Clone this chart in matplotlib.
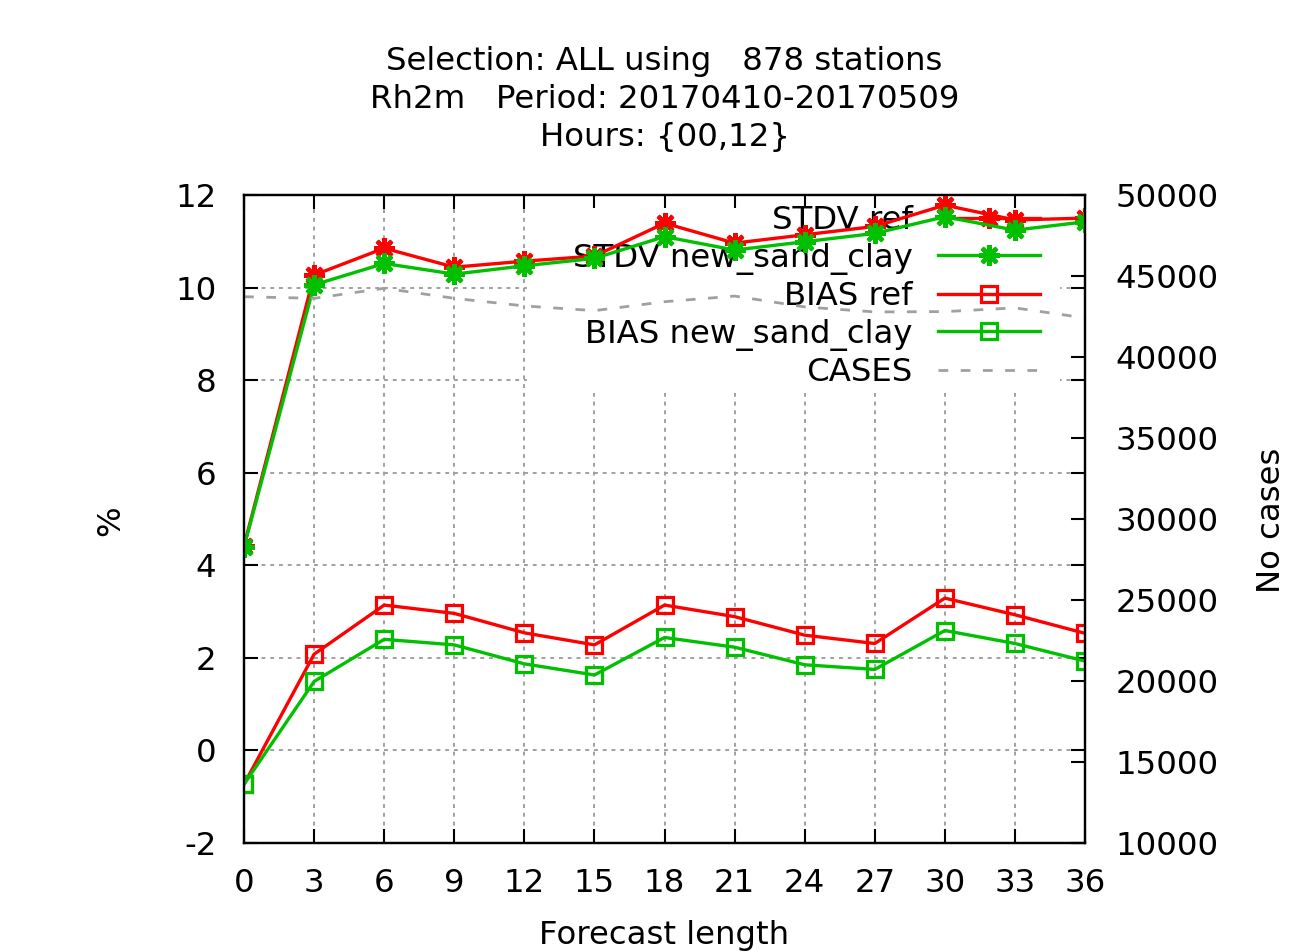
import matplotlib
matplotlib.use("Agg")
from matplotlib import pyplot as plt
from matplotlib.patches import Rectangle

# Datos
horas = [0, 3, 6, 9, 12, 15, 18, 21, 24, 27, 30, 33, 36]
stdv_ref = [4.42, 10.27, 10.85, 10.44, 10.57, 10.68, 11.39, 10.96, 11.14, 11.32, 11.78, 11.46, 11.50]
stdv_new = [4.40, 10.06, 10.52, 10.29, 10.47, 10.63, 11.10, 10.81, 10.99, 11.17, 11.53, 11.24, 11.42]
bias_ref = [-0.73, 2.08, 3.14, 2.96, 2.54, 2.28, 3.14, 2.89, 2.49, 2.31, 3.29, 2.93, 2.53]
bias_new = [-0.73, 1.49, 2.40, 2.28, 1.87, 1.63, 2.44, 2.23, 1.85, 1.75, 2.59, 2.31, 1.93]
casos = [43720, 43620, 44240, 43620, 43150, 42860, 43410, 43760, 43090, 42780, 42800, 43030, 42410]

yticks_izq = list(range(-2, 13, 2))
yticks_der = list(range(10000, 50001, 5000))

titulo = "Selection: ALL using   878 stations\nRh2m   Period: 20170410-20170509\nHours: {00,12}"

ROJO = "#ff0000"
VERDE = "#00c000"
GRIS = "#a0a0a0"
FS = 23.3

plt.rcParams['font.family'] = ['DejaVu Sans']
plt.rcParams['axes.unicode_minus'] = False

fig = plt.figure(figsize=(13.15, 9.52), dpi=100)
ax = fig.add_axes([0.1856, 0.1145, 0.6395, 0.6807])
ax2 = ax.twinx()

# Curvas principales
l1, = ax.plot(horas, stdv_ref, color=ROJO, lw=2.4, marker=(8, 2, 0), ms=15, mew=3.0, label="STDV ref", zorder=3)
l2, = ax.plot(horas, stdv_new, color=VERDE, lw=2.4, marker=(8, 2, 0), ms=15, mew=3.0, label="STDV new_sand_clay", zorder=3)
l3, = ax.plot(horas, bias_ref, color=ROJO, lw=2.4, marker="s", ms=11, mew=2.3, mfc="none", label="BIAS ref", zorder=3)
l4, = ax.plot(horas, bias_new, color=VERDE, lw=2.4, marker="s", ms=11, mew=2.3, mfc="none", label="BIAS new_sand_clay", zorder=3)
l5, = ax2.plot(horas, casos, color=GRIS, lw=2.0, dashes=(3.5, 4.5), label="CASES")

ax.set_xlim(0, 36)
ax.set_ylim(-2, 12)
ax2.set_ylim(10000, 50000)
ax.set_xticks(horas)
ax.set_yticks(yticks_izq)
ax2.set_yticks(yticks_der)

ax.grid(True, color=GRIS, lw=1.4, dashes=(2, 2.5))

# Caja blanca de la leyenda tapa la cuadricula
ax.add_patch(Rectangle((0.3365, 0.694), 0.6335, 0.286, transform=ax.transAxes,
                       facecolor="white", edgecolor="none", zorder=2))

leg = ax.legend(handles=[l1, l2, l3, l4, l5], loc="upper right",
                bbox_to_anchor=(0.9465, 0.984), markerfirst=False, frameon=False,
                fontsize=FS, handlelength=3.15, handletextpad=0.78, labelspacing=0.2,
                borderpad=0, borderaxespad=0)
leg.set_zorder(2.5)

for a in (ax, ax2):
    for s in a.spines.values():
        s.set_linewidth(1.6)
ax.tick_params(axis="both", direction="in", length=10, width=1.5, labelsize=FS,
               top=True, right=True, pad=20)
ax.tick_params(axis="x", pad=18)
ax2.tick_params(axis="y", direction="in", length=10, width=1.5, labelsize=FS, pad=22)

ax.set_xlabel("Forecast length", fontsize=FS)
ax.xaxis.set_label_coords(0.5, -0.1435)
ax.xaxis.label.set_va("center")
ax.set_ylabel("%", fontsize=FS)
ax.yaxis.set_label_coords(-0.159, 0.498)
ax.yaxis.label.set_va("center")
ax2.set_ylabel("No cases", fontsize=FS)
ax2.yaxis.set_label_coords(1.222, 0.498)
ax2.yaxis.label.set_va("center")

ax.text(0.5, 1.147, titulo, transform=ax.transAxes, ha="center", va="center",
        fontsize=FS, linespacing=1.3)

fig.savefig("out.png", dpi=100)
